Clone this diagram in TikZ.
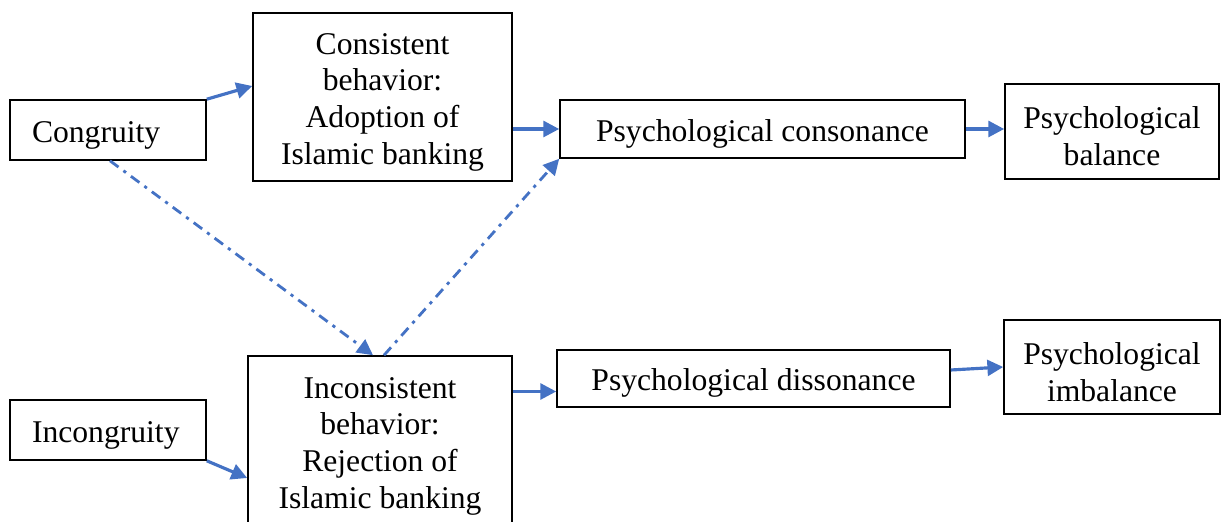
\documentclass[tikz,border=0pt]{standalone}
\usepackage{fontspec}
\setmainfont{Liberation Serif}
\usepackage{tikz}
\usetikzlibrary{shapes, arrows, positioning, calc, arrows.meta}

\definecolor{linkblue}{RGB}{68,114,196}
\newcommand{\boxstrut}{\rule{0pt}{18pt}}
\tikzset{
    box/.style={draw, line width=0.9pt, align=center, inner sep=2pt,
        font=\fontsize{18}{21}\selectfont},
    leftbox/.style={box, align=left, inner xsep=0.44cm, text width=3.04cm,
        minimum height=1.2cm},
    link/.style={draw=linkblue, line width=1.8pt,
        -{Triangle[length=9pt,width=9pt]}},
    dashlink/.style={link, line width=1.6pt,
        dash pattern=on 6pt off 3.5pt on 1.8pt off 3.5pt}
}

\begin{document}
\begin{tikzpicture}
    \useasboundingbox (0,0) rectangle (24.42,10.42);

    % Left column
    \node[leftbox] (cong) at (2.16,7.82) {\boxstrut Congruity};
    \node[leftbox] (incong) at (2.16,1.82) {\boxstrut Incongruity};

    % Behavior boxes
    \node[box, minimum width=5.18cm, minimum height=3.36cm] (consist) at (7.65,8.48)
        {\boxstrut Consistent\\behavior:\\Adoption of\\Islamic banking};
    \node[box, minimum width=5.28cm, minimum height=3.4cm] (inconsist) at (7.6,1.6)
        {\boxstrut Inconsistent\\behavior:\\Rejection of\\Islamic banking};

    % Psychological states
    \node[box, minimum width=8.1cm, minimum height=1.16cm] (conso) at (15.25,7.84) {\boxstrut Psychological consonance};
    \node[box, minimum width=7.86cm, minimum height=1.14cm] (disso) at (15.07,2.85) {\boxstrut Psychological dissonance};

    % Outcomes
    \node[box, minimum width=4.28cm, minimum height=1.9cm] (bal) at (22.24,7.79) {\boxstrut Psychological\\balance};
    \node[box, minimum width=4.32cm, minimum height=1.88cm] (imbal) at (22.24,3.08) {\boxstrut Psychological\\imbalance};

    % Solid arrows
    \coordinate (dissoin) at ([yshift=-0.26cm]disso.west);
    \draw[link] (cong.north east) -- ([yshift=0.22cm]consist.west);
    \draw[link] (consist.east |- conso.west) -- (conso.west);
    \draw[link] (conso.east) -- (bal.west |- conso.east);
    \draw[link] (incong.south east) -- ([yshift=-0.74cm]inconsist.west);
    \draw[link] (inconsist.east |- dissoin) -- (dissoin);
    \draw[link] ([yshift=0.17cm]disso.east) -- (imbal.west);

    % Dash-dot arrows
    \draw[dashlink] ([xshift=0.04cm]cong.south) -- ([xshift=-0.14cm]inconsist.north);
    \draw[dashlink] ([xshift=0.08cm]inconsist.north) -- (conso.south west);
\end{tikzpicture}
\end{document}
